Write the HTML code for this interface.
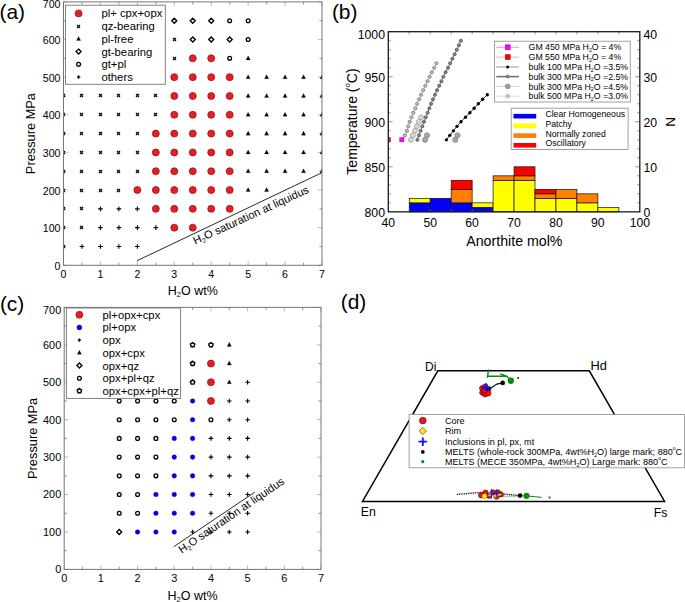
<!DOCTYPE html>
<html><head><meta charset="utf-8"><title>figure</title>
<style>html,body{margin:0;padding:0;background:#fff;}svg{display:block;font-family:"Liberation Sans",sans-serif;}</style>
</head><body>
<svg width="685" height="602" viewBox="0 0 685 602" font-family="Liberation Sans, sans-serif">
<rect width="685" height="602" fill="#fff"/>
<clipPath id="ca"><rect x="63.5" y="1.9" width="258.5" height="263.4"/></clipPath>
<path d="M63.5 265.3v-4.2M63.5 1.9v4.2M100.43 265.3v-4.2M100.43 1.9v4.2M137.36 265.3v-4.2M137.36 1.9v4.2M174.29 265.3v-4.2M174.29 1.9v4.2M211.21 265.3v-4.2M211.21 1.9v4.2M248.14 265.3v-4.2M248.14 1.9v4.2M285.07 265.3v-4.2M285.07 1.9v4.2M322 265.3v-4.2M322 1.9v4.2M63.5 265.3h4.2M322 265.3h-4.2M63.5 227.67h4.2M322 227.67h-4.2M63.5 190.04h4.2M322 190.04h-4.2M63.5 152.41h4.2M322 152.41h-4.2M63.5 114.79h4.2M322 114.79h-4.2M63.5 77.16h4.2M322 77.16h-4.2M63.5 39.53h4.2M322 39.53h-4.2M63.5 1.9h4.2M322 1.9h-4.2" stroke="#a8a8a8" stroke-width="0.8" fill="none"/>
<path d="M81.96 265.3v-2.6M81.96 1.9v2.6M118.89 265.3v-2.6M118.89 1.9v2.6M155.82 265.3v-2.6M155.82 1.9v2.6M192.75 265.3v-2.6M192.75 1.9v2.6M229.68 265.3v-2.6M229.68 1.9v2.6M266.61 265.3v-2.6M266.61 1.9v2.6M303.54 265.3v-2.6M303.54 1.9v2.6M63.5 246.49h2.6M322 246.49h-2.6M63.5 208.86h2.6M322 208.86h-2.6M63.5 171.23h2.6M322 171.23h-2.6M63.5 133.6h2.6M322 133.6h-2.6M63.5 95.97h2.6M322 95.97h-2.6M63.5 58.34h2.6M322 58.34h-2.6M63.5 20.71h2.6M322 20.71h-2.6" stroke="#767676" stroke-width="0.8" fill="none"/>
<g clip-path="url(#ca)">
<path d="M174.29 18.21L176.79 20.71L174.29 23.21L171.79 20.71Z" stroke="#000" stroke-width="1.35" fill="none"/>
<path d="M192.75 18.21L195.25 20.71L192.75 23.21L190.25 20.71Z" stroke="#000" stroke-width="1.35" fill="none"/>
<path d="M211.21 18.21L213.71 20.71L211.21 23.21L208.71 20.71Z" stroke="#000" stroke-width="1.35" fill="none"/>
<circle cx="229.68" cy="20.71" r="1.9" stroke="#000" stroke-width="1.3" fill="none"/>
<circle cx="248.14" cy="20.71" r="1.9" stroke="#000" stroke-width="1.3" fill="none"/>
<path d="M173 38L176 41M173 41L176 38" stroke="#000" stroke-width="1.2" fill="none"/>
<path d="M192.75 37.03L195.25 39.53L192.75 42.03L190.25 39.53Z" stroke="#000" stroke-width="1.35" fill="none"/>
<path d="M211.21 37.03L213.71 39.53L211.21 42.03L208.71 39.53Z" stroke="#000" stroke-width="1.35" fill="none"/>
<path d="M229.68 37.03L232.18 39.53L229.68 42.03L227.18 39.53Z" stroke="#000" stroke-width="1.35" fill="none"/>
<circle cx="248.14" cy="39.53" r="1.9" stroke="#000" stroke-width="1.3" fill="none"/>
<path d="M173 57L176 60M173 60L176 57" stroke="#000" stroke-width="1.2" fill="none"/>
<circle cx="192.75" cy="58.34" r="3.5" fill="#ec1c24" stroke="#7a1414" stroke-width="0.7"/>
<circle cx="211.21" cy="58.34" r="3.5" fill="#ec1c24" stroke="#7a1414" stroke-width="0.7"/>
<circle cx="229.68" cy="58.34" r="1.9" stroke="#000" stroke-width="1.3" fill="none"/>
<path d="M248.14 55.84L250.24 59.89L246.04 59.89Z" fill="#000" stroke="#000" stroke-width="0.2"/>
<circle cx="174.29" cy="77.16" r="3.5" fill="#ec1c24" stroke="#7a1414" stroke-width="0.7"/>
<circle cx="192.75" cy="77.16" r="3.5" fill="#ec1c24" stroke="#7a1414" stroke-width="0.7"/>
<circle cx="211.21" cy="77.16" r="3.5" fill="#ec1c24" stroke="#7a1414" stroke-width="0.7"/>
<circle cx="229.68" cy="77.16" r="3.5" fill="#ec1c24" stroke="#7a1414" stroke-width="0.7"/>
<path d="M248.14 74.66L250.24 78.71L246.04 78.71Z" fill="#000" stroke="#000" stroke-width="0.2"/>
<path d="M266.61 74.66L268.71 78.71L264.51 78.71Z" fill="#000" stroke="#000" stroke-width="0.2"/>
<path d="M285.07 74.66L287.17 78.71L282.97 78.71Z" fill="#000" stroke="#000" stroke-width="0.2"/>
<path d="M303.54 74.66L305.64 78.71L301.44 78.71Z" fill="#000" stroke="#000" stroke-width="0.2"/>
<path d="M322 74.66L324.1 78.71L319.9 78.71Z" fill="#000" stroke="#000" stroke-width="0.2"/>
<path d="M62 94L65 97M62 97L65 94" stroke="#000" stroke-width="1.2" fill="none"/>
<path d="M80 94L83 97M80 97L83 94" stroke="#000" stroke-width="1.2" fill="none"/>
<path d="M99 94L102 97M99 97L102 94" stroke="#000" stroke-width="1.2" fill="none"/>
<path d="M117 94L120 97M117 97L120 94" stroke="#000" stroke-width="1.2" fill="none"/>
<path d="M136 94L139 97M136 97L139 94" stroke="#000" stroke-width="1.2" fill="none"/>
<path d="M154 94L157 97M154 97L157 94" stroke="#000" stroke-width="1.2" fill="none"/>
<circle cx="174.29" cy="95.97" r="3.5" fill="#ec1c24" stroke="#7a1414" stroke-width="0.7"/>
<circle cx="192.75" cy="95.97" r="3.5" fill="#ec1c24" stroke="#7a1414" stroke-width="0.7"/>
<circle cx="211.21" cy="95.97" r="3.5" fill="#ec1c24" stroke="#7a1414" stroke-width="0.7"/>
<circle cx="229.68" cy="95.97" r="3.5" fill="#ec1c24" stroke="#7a1414" stroke-width="0.7"/>
<path d="M248.14 93.47L250.24 97.52L246.04 97.52Z" fill="#000" stroke="#000" stroke-width="0.2"/>
<path d="M266.61 93.47L268.71 97.52L264.51 97.52Z" fill="#000" stroke="#000" stroke-width="0.2"/>
<path d="M285.07 93.47L287.17 97.52L282.97 97.52Z" fill="#000" stroke="#000" stroke-width="0.2"/>
<path d="M303.54 93.47L305.64 97.52L301.44 97.52Z" fill="#000" stroke="#000" stroke-width="0.2"/>
<path d="M322 93.47L324.1 97.52L319.9 97.52Z" fill="#000" stroke="#000" stroke-width="0.2"/>
<path d="M62 113L65 116M62 116L65 113" stroke="#000" stroke-width="1.2" fill="none"/>
<path d="M80 113L83 116M80 116L83 113" stroke="#000" stroke-width="1.2" fill="none"/>
<path d="M99 113L102 116M99 116L102 113" stroke="#000" stroke-width="1.2" fill="none"/>
<path d="M117 113L120 116M117 116L120 113" stroke="#000" stroke-width="1.2" fill="none"/>
<path d="M136 113L139 116M136 116L139 113" stroke="#000" stroke-width="1.2" fill="none"/>
<path d="M154 113L157 116M154 116L157 113" stroke="#000" stroke-width="1.2" fill="none"/>
<circle cx="174.29" cy="114.79" r="3.5" fill="#ec1c24" stroke="#7a1414" stroke-width="0.7"/>
<circle cx="192.75" cy="114.79" r="3.5" fill="#ec1c24" stroke="#7a1414" stroke-width="0.7"/>
<circle cx="211.21" cy="114.79" r="3.5" fill="#ec1c24" stroke="#7a1414" stroke-width="0.7"/>
<circle cx="229.68" cy="114.79" r="3.5" fill="#ec1c24" stroke="#7a1414" stroke-width="0.7"/>
<path d="M248.14 112.29L250.24 116.34L246.04 116.34Z" fill="#000" stroke="#000" stroke-width="0.2"/>
<path d="M266.61 112.29L268.71 116.34L264.51 116.34Z" fill="#000" stroke="#000" stroke-width="0.2"/>
<path d="M285.07 112.29L287.17 116.34L282.97 116.34Z" fill="#000" stroke="#000" stroke-width="0.2"/>
<path d="M303.54 112.29L305.64 116.34L301.44 116.34Z" fill="#000" stroke="#000" stroke-width="0.2"/>
<path d="M322 112.29L324.1 116.34L319.9 116.34Z" fill="#000" stroke="#000" stroke-width="0.2"/>
<path d="M62 132L65 135M62 135L65 132" stroke="#000" stroke-width="1.2" fill="none"/>
<path d="M80 132L83 135M80 135L83 132" stroke="#000" stroke-width="1.2" fill="none"/>
<path d="M99 132L102 135M99 135L102 132" stroke="#000" stroke-width="1.2" fill="none"/>
<path d="M117 132L120 135M117 135L120 132" stroke="#000" stroke-width="1.2" fill="none"/>
<path d="M136 132L139 135M136 135L139 132" stroke="#000" stroke-width="1.2" fill="none"/>
<circle cx="155.82" cy="133.6" r="3.5" fill="#ec1c24" stroke="#7a1414" stroke-width="0.7"/>
<circle cx="174.29" cy="133.6" r="3.5" fill="#ec1c24" stroke="#7a1414" stroke-width="0.7"/>
<circle cx="192.75" cy="133.6" r="3.5" fill="#ec1c24" stroke="#7a1414" stroke-width="0.7"/>
<circle cx="211.21" cy="133.6" r="3.5" fill="#ec1c24" stroke="#7a1414" stroke-width="0.7"/>
<circle cx="229.68" cy="133.6" r="3.5" fill="#ec1c24" stroke="#7a1414" stroke-width="0.7"/>
<path d="M248.14 131.1L250.24 135.15L246.04 135.15Z" fill="#000" stroke="#000" stroke-width="0.2"/>
<path d="M266.61 131.1L268.71 135.15L264.51 135.15Z" fill="#000" stroke="#000" stroke-width="0.2"/>
<path d="M285.07 131.1L287.17 135.15L282.97 135.15Z" fill="#000" stroke="#000" stroke-width="0.2"/>
<path d="M303.54 131.1L305.64 135.15L301.44 135.15Z" fill="#000" stroke="#000" stroke-width="0.2"/>
<path d="M322 131.1L324.1 135.15L319.9 135.15Z" fill="#000" stroke="#000" stroke-width="0.2"/>
<path d="M62 151L65 154M62 154L65 151" stroke="#000" stroke-width="1.2" fill="none"/>
<path d="M80 151L83 154M80 154L83 151" stroke="#000" stroke-width="1.2" fill="none"/>
<path d="M99 151L102 154M99 154L102 151" stroke="#000" stroke-width="1.2" fill="none"/>
<path d="M117 151L120 154M117 154L120 151" stroke="#000" stroke-width="1.2" fill="none"/>
<path d="M136 151L139 154M136 154L139 151" stroke="#000" stroke-width="1.2" fill="none"/>
<circle cx="155.82" cy="152.41" r="3.5" fill="#ec1c24" stroke="#7a1414" stroke-width="0.7"/>
<circle cx="174.29" cy="152.41" r="3.5" fill="#ec1c24" stroke="#7a1414" stroke-width="0.7"/>
<circle cx="192.75" cy="152.41" r="3.5" fill="#ec1c24" stroke="#7a1414" stroke-width="0.7"/>
<circle cx="211.21" cy="152.41" r="3.5" fill="#ec1c24" stroke="#7a1414" stroke-width="0.7"/>
<circle cx="229.68" cy="152.41" r="3.5" fill="#ec1c24" stroke="#7a1414" stroke-width="0.7"/>
<path d="M248.14 149.91L250.24 153.96L246.04 153.96Z" fill="#000" stroke="#000" stroke-width="0.2"/>
<path d="M266.61 149.91L268.71 153.96L264.51 153.96Z" fill="#000" stroke="#000" stroke-width="0.2"/>
<path d="M285.07 149.91L287.17 153.96L282.97 153.96Z" fill="#000" stroke="#000" stroke-width="0.2"/>
<path d="M303.54 149.91L305.64 153.96L301.44 153.96Z" fill="#000" stroke="#000" stroke-width="0.2"/>
<path d="M322 149.91L324.1 153.96L319.9 153.96Z" fill="#000" stroke="#000" stroke-width="0.2"/>
<path d="M62 170L65 173M62 173L65 170" stroke="#000" stroke-width="1.2" fill="none"/>
<path d="M80 170L83 173M80 173L83 170" stroke="#000" stroke-width="1.2" fill="none"/>
<path d="M99 170L102 173M99 173L102 170" stroke="#000" stroke-width="1.2" fill="none"/>
<path d="M117 170L120 173M117 173L120 170" stroke="#000" stroke-width="1.2" fill="none"/>
<path d="M136 170L139 173M136 173L139 170" stroke="#000" stroke-width="1.2" fill="none"/>
<circle cx="155.82" cy="171.23" r="3.5" fill="#ec1c24" stroke="#7a1414" stroke-width="0.7"/>
<circle cx="174.29" cy="171.23" r="3.5" fill="#ec1c24" stroke="#7a1414" stroke-width="0.7"/>
<circle cx="192.75" cy="171.23" r="3.5" fill="#ec1c24" stroke="#7a1414" stroke-width="0.7"/>
<circle cx="211.21" cy="171.23" r="3.5" fill="#ec1c24" stroke="#7a1414" stroke-width="0.7"/>
<circle cx="229.68" cy="171.23" r="3.5" fill="#ec1c24" stroke="#7a1414" stroke-width="0.7"/>
<path d="M248.14 168.73L250.24 172.78L246.04 172.78Z" fill="#000" stroke="#000" stroke-width="0.2"/>
<path d="M266.61 168.73L268.71 172.78L264.51 172.78Z" fill="#000" stroke="#000" stroke-width="0.2"/>
<path d="M285.07 168.73L287.17 172.78L282.97 172.78Z" fill="#000" stroke="#000" stroke-width="0.2"/>
<path d="M303.54 168.73L305.64 172.78L301.44 172.78Z" fill="#000" stroke="#000" stroke-width="0.2"/>
<path d="M322 168.73L324.1 172.78L319.9 172.78Z" fill="#000" stroke="#000" stroke-width="0.2"/>
<path d="M62 189L65 192M62 192L65 189" stroke="#000" stroke-width="1.2" fill="none"/>
<path d="M80 189L83 192M80 192L83 189" stroke="#000" stroke-width="1.2" fill="none"/>
<path d="M99 189L102 192M99 192L102 189" stroke="#000" stroke-width="1.2" fill="none"/>
<path d="M117 189L120 192M117 192L120 189" stroke="#000" stroke-width="1.2" fill="none"/>
<circle cx="137.36" cy="190.04" r="3.5" fill="#ec1c24" stroke="#7a1414" stroke-width="0.7"/>
<circle cx="155.82" cy="190.04" r="3.5" fill="#ec1c24" stroke="#7a1414" stroke-width="0.7"/>
<circle cx="174.29" cy="190.04" r="3.5" fill="#ec1c24" stroke="#7a1414" stroke-width="0.7"/>
<circle cx="192.75" cy="190.04" r="3.5" fill="#ec1c24" stroke="#7a1414" stroke-width="0.7"/>
<circle cx="211.21" cy="190.04" r="3.5" fill="#ec1c24" stroke="#7a1414" stroke-width="0.7"/>
<circle cx="229.68" cy="190.04" r="3.5" fill="#ec1c24" stroke="#7a1414" stroke-width="0.7"/>
<path d="M248.14 187.54L250.24 191.59L246.04 191.59Z" fill="#000" stroke="#000" stroke-width="0.2"/>
<path d="M266.61 187.54L268.71 191.59L264.51 191.59Z" fill="#000" stroke="#000" stroke-width="0.2"/>
<path d="M62 207L65 210M62 210L65 207" stroke="#000" stroke-width="1.2" fill="none"/>
<path d="M80 207L83 210M80 210L83 207" stroke="#000" stroke-width="1.2" fill="none"/>
<path d="M98.13 208.86H102.73M100.43 206.56V211.16" stroke="#000" stroke-width="1.1" fill="none"/>
<path d="M116.59 208.86H121.19M118.89 206.56V211.16" stroke="#000" stroke-width="1.1" fill="none"/>
<path d="M135.06 208.86H139.66M137.36 206.56V211.16" stroke="#000" stroke-width="1.1" fill="none"/>
<circle cx="155.82" cy="208.86" r="3.5" fill="#ec1c24" stroke="#7a1414" stroke-width="0.7"/>
<circle cx="174.29" cy="208.86" r="3.5" fill="#ec1c24" stroke="#7a1414" stroke-width="0.7"/>
<circle cx="192.75" cy="208.86" r="3.5" fill="#ec1c24" stroke="#7a1414" stroke-width="0.7"/>
<circle cx="211.21" cy="208.86" r="3.5" fill="#ec1c24" stroke="#7a1414" stroke-width="0.7"/>
<circle cx="229.68" cy="208.86" r="3.5" fill="#ec1c24" stroke="#7a1414" stroke-width="0.7"/>
<path d="M62 226L65 229M62 229L65 226" stroke="#000" stroke-width="1.2" fill="none"/>
<path d="M80 226L83 229M80 229L83 226" stroke="#000" stroke-width="1.2" fill="none"/>
<path d="M98.13 227.67H102.73M100.43 225.37V229.97" stroke="#000" stroke-width="1.1" fill="none"/>
<path d="M116.59 227.67H121.19M118.89 225.37V229.97" stroke="#000" stroke-width="1.1" fill="none"/>
<path d="M135.06 227.67H139.66M137.36 225.37V229.97" stroke="#000" stroke-width="1.1" fill="none"/>
<path d="M153.52 227.67H158.12M155.82 225.37V229.97" stroke="#000" stroke-width="1.1" fill="none"/>
<circle cx="174.29" cy="227.67" r="3.5" fill="#ec1c24" stroke="#7a1414" stroke-width="0.7"/>
<circle cx="192.75" cy="227.67" r="3.5" fill="#ec1c24" stroke="#7a1414" stroke-width="0.7"/>
<path d="M62 245L65 248M62 248L65 245" stroke="#000" stroke-width="1.2" fill="none"/>
<path d="M79.66 246.49H84.26M81.96 244.19V248.79" stroke="#000" stroke-width="1.1" fill="none"/>
<path d="M98.13 246.49H102.73M100.43 244.19V248.79" stroke="#000" stroke-width="1.1" fill="none"/>
<path d="M116.59 246.49H121.19M118.89 244.19V248.79" stroke="#000" stroke-width="1.1" fill="none"/>
<path d="M135.06 246.49H139.66M137.36 244.19V248.79" stroke="#000" stroke-width="1.1" fill="none"/>
</g>
<line x1="137.1" y1="260.7" x2="321.7" y2="172.8" stroke="#111" stroke-width="0.9"/>
<text x="0" y="0" font-size="11.15" transform="translate(195.3 244.7) rotate(-24.6)" fill="#000">H<tspan font-size="0.6em" dy="0.33em">2</tspan><tspan dy="-0.198em">O</tspan> saturation at liquidus</text>
<rect x="63.5" y="1.9" width="258.5" height="263.4" fill="none" stroke="#767676" stroke-width="1"/>
<text x="63.5" y="277.6" font-size="10.6" text-anchor="middle" fill="#000" >0</text>
<text x="100.43" y="277.6" font-size="10.6" text-anchor="middle" fill="#000" >1</text>
<text x="137.36" y="277.6" font-size="10.6" text-anchor="middle" fill="#000" >2</text>
<text x="174.29" y="277.6" font-size="10.6" text-anchor="middle" fill="#000" >3</text>
<text x="211.21" y="277.6" font-size="10.6" text-anchor="middle" fill="#000" >4</text>
<text x="248.14" y="277.6" font-size="10.6" text-anchor="middle" fill="#000" >5</text>
<text x="285.07" y="277.6" font-size="10.6" text-anchor="middle" fill="#000" >6</text>
<text x="322" y="277.6" font-size="10.6" text-anchor="middle" fill="#000" >7</text>
<text x="60.5" y="269.8" font-size="10.6" text-anchor="end" fill="#000" >0</text>
<text x="60.5" y="232.17" font-size="10.6" text-anchor="end" fill="#000" >100</text>
<text x="60.5" y="194.54" font-size="10.6" text-anchor="end" fill="#000" >200</text>
<text x="60.5" y="156.91" font-size="10.6" text-anchor="end" fill="#000" >300</text>
<text x="60.5" y="119.29" font-size="10.6" text-anchor="end" fill="#000" >400</text>
<text x="60.5" y="81.66" font-size="10.6" text-anchor="end" fill="#000" >500</text>
<text x="60.5" y="44.03" font-size="10.6" text-anchor="end" fill="#000" >600</text>
<text x="60.5" y="8.4" font-size="10.6" text-anchor="end" fill="#000" >700</text>
<text x="192.75" y="295" font-size="12.5" text-anchor="middle" fill="#000">H<tspan font-size="0.6em" dy="0.33em">2</tspan><tspan dy="-0.198em">O</tspan> wt%</text>
<text x="0" y="0" font-size="12.8" text-anchor="middle" fill="#000" transform="translate(35.3 133.6) rotate(-90)">Pressure MPa</text>
<rect x="65.5" y="5.2" width="99.8" height="79.1" fill="#fff" stroke="#767676" stroke-width="0.9"/>
<circle cx="78.6" cy="13.4" r="3.5" fill="#ec1c24" stroke="#7a1414" stroke-width="0.7"/>
<text x="101.4" y="17.4" font-size="11.3" text-anchor="start" fill="#000" >pl+ cpx+opx</text>
<path d="M77 25L80 28M77 28L80 25" stroke="#000" stroke-width="1.2" fill="none"/>
<text x="101.4" y="30.2" font-size="11.3" text-anchor="start" fill="#000" >qz-bearing</text>
<path d="M78.6 36.4L80.7 40.45L76.5 40.45Z" fill="#000" stroke="#000" stroke-width="0.2"/>
<text x="101.4" y="42.9" font-size="11.3" text-anchor="start" fill="#000" >pl-free</text>
<path d="M78.6 49.1L81.1 51.6L78.6 54.1L76.1 51.6Z" stroke="#000" stroke-width="1.35" fill="none"/>
<text x="101.4" y="55.6" font-size="11.3" text-anchor="start" fill="#000" >gt-bearing</text>
<circle cx="78.6" cy="64.3" r="1.9" stroke="#000" stroke-width="1.3" fill="none"/>
<text x="101.4" y="68.3" font-size="11.3" text-anchor="start" fill="#000" >gt+pl</text>
<path d="M76.9 77H80.3M78.6 75.3V78.7" stroke="#000" stroke-width="1.25" fill="none"/>
<text x="101.4" y="81" font-size="11.3" text-anchor="start" fill="#000" >others</text>
<text x="-0.5" y="18.6" font-size="20.9" text-anchor="start" fill="#000" >(a)</text>
<clipPath id="cc"><rect x="64.2" y="307.4" width="256.8" height="262"/></clipPath>
<path d="M64.2 569.4v-4.2M64.2 307.4v4.2M100.89 569.4v-4.2M100.89 307.4v4.2M137.57 569.4v-4.2M137.57 307.4v4.2M174.26 569.4v-4.2M174.26 307.4v4.2M210.94 569.4v-4.2M210.94 307.4v4.2M247.63 569.4v-4.2M247.63 307.4v4.2M284.31 569.4v-4.2M284.31 307.4v4.2M321 569.4v-4.2M321 307.4v4.2M64.2 569.4h4.2M321 569.4h-4.2M64.2 531.97h4.2M321 531.97h-4.2M64.2 494.54h4.2M321 494.54h-4.2M64.2 457.11h4.2M321 457.11h-4.2M64.2 419.69h4.2M321 419.69h-4.2M64.2 382.26h4.2M321 382.26h-4.2M64.2 344.83h4.2M321 344.83h-4.2M64.2 307.4h4.2M321 307.4h-4.2" stroke="#a8a8a8" stroke-width="0.8" fill="none"/>
<path d="M82.54 569.4v-2.6M82.54 307.4v2.6M119.23 569.4v-2.6M119.23 307.4v2.6M155.91 569.4v-2.6M155.91 307.4v2.6M192.6 569.4v-2.6M192.6 307.4v2.6M229.29 569.4v-2.6M229.29 307.4v2.6M265.97 569.4v-2.6M265.97 307.4v2.6M302.66 569.4v-2.6M302.66 307.4v2.6M64.2 550.69h2.6M321 550.69h-2.6M64.2 513.26h2.6M321 513.26h-2.6M64.2 475.83h2.6M321 475.83h-2.6M64.2 438.4h2.6M321 438.4h-2.6M64.2 400.97h2.6M321 400.97h-2.6M64.2 363.54h2.6M321 363.54h-2.6M64.2 326.11h2.6M321 326.11h-2.6" stroke="#767676" stroke-width="0.8" fill="none"/>
<g clip-path="url(#cc)">
<path d="M192.6 342.53L194.79 344.12L193.95 346.69L191.25 346.69L190.41 344.12Z" stroke="#000" stroke-width="1.45" fill="none"/>
<path d="M210.94 342.53L213.13 344.12L212.29 346.69L209.59 346.69L208.76 344.12Z" stroke="#000" stroke-width="1.45" fill="none"/>
<path d="M229.29 342.33L231.39 346.38L227.19 346.38Z" fill="#000" stroke="#000" stroke-width="0.2"/>
<path d="M192.6 361.24L194.79 362.83L193.95 365.4L191.25 365.4L190.41 362.83Z" stroke="#000" stroke-width="1.45" fill="none"/>
<circle cx="210.94" cy="363.54" r="3.5" fill="#ec1c24" stroke="#7a1414" stroke-width="0.7"/>
<path d="M229.29 361.04L231.39 365.09L227.19 365.09Z" fill="#000" stroke="#000" stroke-width="0.2"/>
<path d="M192.6 379.96L194.79 381.55L193.95 384.12L191.25 384.12L190.41 381.55Z" stroke="#000" stroke-width="1.45" fill="none"/>
<circle cx="210.94" cy="382.26" r="3.5" fill="#ec1c24" stroke="#7a1414" stroke-width="0.7"/>
<path d="M229.29 379.76L231.39 383.81L227.19 383.81Z" fill="#000" stroke="#000" stroke-width="0.2"/>
<path d="M245.33 382.26H249.93M247.63 379.96V384.56" stroke="#000" stroke-width="1.1" fill="none"/>
<circle cx="119.23" cy="400.97" r="1.9" stroke="#000" stroke-width="1.3" fill="none"/>
<circle cx="137.57" cy="400.97" r="1.9" stroke="#000" stroke-width="1.3" fill="none"/>
<circle cx="155.91" cy="400.97" r="1.9" stroke="#000" stroke-width="1.3" fill="none"/>
<circle cx="174.26" cy="400.97" r="1.9" stroke="#000" stroke-width="1.3" fill="none"/>
<circle cx="192.6" cy="400.97" r="2.3" fill="#0000f8" stroke="#000070" stroke-width="0.4"/>
<circle cx="210.94" cy="400.97" r="3.5" fill="#ec1c24" stroke="#7a1414" stroke-width="0.7"/>
<path d="M226.99 400.97H231.59M229.29 398.67V403.27" stroke="#000" stroke-width="1.1" fill="none"/>
<path d="M245.33 400.97H249.93M247.63 398.67V403.27" stroke="#000" stroke-width="1.1" fill="none"/>
<circle cx="119.23" cy="419.69" r="1.9" stroke="#000" stroke-width="1.3" fill="none"/>
<circle cx="137.57" cy="419.69" r="1.9" stroke="#000" stroke-width="1.3" fill="none"/>
<circle cx="155.91" cy="419.69" r="1.9" stroke="#000" stroke-width="1.3" fill="none"/>
<circle cx="174.26" cy="419.69" r="1.9" stroke="#000" stroke-width="1.3" fill="none"/>
<circle cx="192.6" cy="419.69" r="2.3" fill="#0000f8" stroke="#000070" stroke-width="0.4"/>
<circle cx="210.94" cy="419.69" r="1.9" stroke="#000" stroke-width="1.3" fill="none"/>
<path d="M226.99 419.69H231.59M229.29 417.39V421.99" stroke="#000" stroke-width="1.1" fill="none"/>
<path d="M245.33 419.69H249.93M247.63 417.39V421.99" stroke="#000" stroke-width="1.1" fill="none"/>
<circle cx="119.23" cy="438.4" r="1.9" stroke="#000" stroke-width="1.3" fill="none"/>
<circle cx="137.57" cy="438.4" r="1.9" stroke="#000" stroke-width="1.3" fill="none"/>
<circle cx="155.91" cy="438.4" r="1.9" stroke="#000" stroke-width="1.3" fill="none"/>
<circle cx="174.26" cy="438.4" r="2.3" fill="#0000f8" stroke="#000070" stroke-width="0.4"/>
<circle cx="192.6" cy="438.4" r="2.3" fill="#0000f8" stroke="#000070" stroke-width="0.4"/>
<path d="M208.64 438.4H213.24M210.94 436.1V440.7" stroke="#000" stroke-width="1.1" fill="none"/>
<path d="M226.99 438.4H231.59M229.29 436.1V440.7" stroke="#000" stroke-width="1.1" fill="none"/>
<path d="M245.33 438.4H249.93M247.63 436.1V440.7" stroke="#000" stroke-width="1.1" fill="none"/>
<circle cx="119.23" cy="457.11" r="1.9" stroke="#000" stroke-width="1.3" fill="none"/>
<circle cx="137.57" cy="457.11" r="1.9" stroke="#000" stroke-width="1.3" fill="none"/>
<circle cx="155.91" cy="457.11" r="1.9" stroke="#000" stroke-width="1.3" fill="none"/>
<circle cx="174.26" cy="457.11" r="2.3" fill="#0000f8" stroke="#000070" stroke-width="0.4"/>
<circle cx="192.6" cy="457.11" r="2.3" fill="#0000f8" stroke="#000070" stroke-width="0.4"/>
<path d="M208.64 457.11H213.24M210.94 454.81V459.41" stroke="#000" stroke-width="1.1" fill="none"/>
<path d="M226.99 457.11H231.59M229.29 454.81V459.41" stroke="#000" stroke-width="1.1" fill="none"/>
<path d="M245.33 457.11H249.93M247.63 454.81V459.41" stroke="#000" stroke-width="1.1" fill="none"/>
<circle cx="119.23" cy="475.83" r="1.9" stroke="#000" stroke-width="1.3" fill="none"/>
<circle cx="137.57" cy="475.83" r="1.9" stroke="#000" stroke-width="1.3" fill="none"/>
<circle cx="155.91" cy="475.83" r="1.9" stroke="#000" stroke-width="1.3" fill="none"/>
<circle cx="174.26" cy="475.83" r="2.3" fill="#0000f8" stroke="#000070" stroke-width="0.4"/>
<circle cx="192.6" cy="475.83" r="2.3" fill="#0000f8" stroke="#000070" stroke-width="0.4"/>
<path d="M208.64 475.83H213.24M210.94 473.53V478.13" stroke="#000" stroke-width="1.1" fill="none"/>
<path d="M226.99 475.83H231.59M229.29 473.53V478.13" stroke="#000" stroke-width="1.1" fill="none"/>
<path d="M245.33 475.83H249.93M247.63 473.53V478.13" stroke="#000" stroke-width="1.1" fill="none"/>
<circle cx="119.23" cy="494.54" r="1.9" stroke="#000" stroke-width="1.3" fill="none"/>
<circle cx="137.57" cy="494.54" r="1.9" stroke="#000" stroke-width="1.3" fill="none"/>
<circle cx="155.91" cy="494.54" r="2.3" fill="#0000f8" stroke="#000070" stroke-width="0.4"/>
<circle cx="174.26" cy="494.54" r="2.3" fill="#0000f8" stroke="#000070" stroke-width="0.4"/>
<circle cx="192.6" cy="494.54" r="2.3" fill="#0000f8" stroke="#000070" stroke-width="0.4"/>
<path d="M208.64 494.54H213.24M210.94 492.24V496.84" stroke="#000" stroke-width="1.1" fill="none"/>
<path d="M226.99 494.54H231.59M229.29 492.24V496.84" stroke="#000" stroke-width="1.1" fill="none"/>
<path d="M245.33 494.54H249.93M247.63 492.24V496.84" stroke="#000" stroke-width="1.1" fill="none"/>
<circle cx="119.23" cy="513.26" r="1.9" stroke="#000" stroke-width="1.3" fill="none"/>
<circle cx="137.57" cy="513.26" r="1.9" stroke="#000" stroke-width="1.3" fill="none"/>
<circle cx="155.91" cy="513.26" r="2.3" fill="#0000f8" stroke="#000070" stroke-width="0.4"/>
<circle cx="174.26" cy="513.26" r="2.3" fill="#0000f8" stroke="#000070" stroke-width="0.4"/>
<circle cx="192.6" cy="513.26" r="2.3" fill="#0000f8" stroke="#000070" stroke-width="0.4"/>
<path d="M208.64 513.26H213.24M210.94 510.96V515.56" stroke="#000" stroke-width="1.1" fill="none"/>
<path d="M226.99 513.26H231.59M229.29 510.96V515.56" stroke="#000" stroke-width="1.1" fill="none"/>
<path d="M245.33 513.26H249.93M247.63 510.96V515.56" stroke="#000" stroke-width="1.1" fill="none"/>
<path d="M119.23 529.47L121.73 531.97L119.23 534.47L116.73 531.97Z" stroke="#000" stroke-width="1.35" fill="none"/>
<circle cx="137.57" cy="531.97" r="2.3" fill="#0000f8" stroke="#000070" stroke-width="0.4"/>
<circle cx="155.91" cy="531.97" r="2.3" fill="#0000f8" stroke="#000070" stroke-width="0.4"/>
<circle cx="174.26" cy="531.97" r="2.3" fill="#0000f8" stroke="#000070" stroke-width="0.4"/>
<path d="M190.3 531.97H194.9M192.6 529.67V534.27" stroke="#000" stroke-width="1.1" fill="none"/>
<path d="M208.64 531.97H213.24M210.94 529.67V534.27" stroke="#000" stroke-width="1.1" fill="none"/>
<path d="M226.99 531.97H231.59M229.29 529.67V534.27" stroke="#000" stroke-width="1.1" fill="none"/>
<path d="M245.33 531.97H249.93M247.63 529.67V534.27" stroke="#000" stroke-width="1.1" fill="none"/>
</g>
<line x1="173.9" y1="546.6" x2="254.6" y2="492.3" stroke="#111" stroke-width="0.9"/>
<text x="0" y="0" font-size="11.1" transform="translate(181.7 553.7) rotate(-34.3)" fill="#000">H<tspan font-size="0.6em" dy="0.33em">2</tspan><tspan dy="-0.198em">O</tspan> saturation at liquidus</text>
<rect x="64.2" y="307.4" width="256.8" height="262" fill="none" stroke="#767676" stroke-width="1"/>
<text x="64.2" y="581.7" font-size="10.9" text-anchor="middle" fill="#000" >0</text>
<text x="100.89" y="581.7" font-size="10.9" text-anchor="middle" fill="#000" >1</text>
<text x="137.57" y="581.7" font-size="10.9" text-anchor="middle" fill="#000" >2</text>
<text x="174.26" y="581.7" font-size="10.9" text-anchor="middle" fill="#000" >3</text>
<text x="210.94" y="581.7" font-size="10.9" text-anchor="middle" fill="#000" >4</text>
<text x="247.63" y="581.7" font-size="10.9" text-anchor="middle" fill="#000" >5</text>
<text x="284.31" y="581.7" font-size="10.9" text-anchor="middle" fill="#000" >6</text>
<text x="321" y="581.7" font-size="10.9" text-anchor="middle" fill="#000" >7</text>
<text x="61.2" y="573.3" font-size="10.9" text-anchor="end" fill="#000" >0</text>
<text x="61.2" y="535.87" font-size="10.9" text-anchor="end" fill="#000" >100</text>
<text x="61.2" y="498.44" font-size="10.9" text-anchor="end" fill="#000" >200</text>
<text x="61.2" y="461.01" font-size="10.9" text-anchor="end" fill="#000" >300</text>
<text x="61.2" y="423.59" font-size="10.9" text-anchor="end" fill="#000" >400</text>
<text x="61.2" y="386.16" font-size="10.9" text-anchor="end" fill="#000" >500</text>
<text x="61.2" y="348.73" font-size="10.9" text-anchor="end" fill="#000" >600</text>
<text x="61.2" y="314.2" font-size="10.9" text-anchor="end" fill="#000" >700</text>
<text x="192.6" y="599.8" font-size="12.5" text-anchor="middle" fill="#000">H<tspan font-size="0.6em" dy="0.33em">2</tspan><tspan dy="-0.198em">O</tspan> wt%</text>
<text x="0" y="0" font-size="12.8" text-anchor="middle" fill="#000" transform="translate(37 438.4) rotate(-90)">Pressure MPa</text>
<rect x="66.4" y="308" width="114.2" height="90.4" fill="#fff" stroke="#767676" stroke-width="0.9"/>
<circle cx="79.4" cy="314.8" r="3.5" fill="#ec1c24" stroke="#7a1414" stroke-width="0.7"/>
<text x="102.5" y="318.8" font-size="11.3" text-anchor="start" fill="#000" >pl+opx+cpx</text>
<circle cx="79.4" cy="327.4" r="2.5" fill="#0000f8" stroke="#000070" stroke-width="0.4"/>
<text x="102.5" y="331.4" font-size="11.3" text-anchor="start" fill="#000" >pl+opx</text>
<path d="M77.7 340.1H81.1M79.4 338.4V341.8" stroke="#000" stroke-width="1.25" fill="none"/>
<text x="102.5" y="344.1" font-size="11.3" text-anchor="start" fill="#000" >opx</text>
<path d="M79.4 350.3L81.5 354.35L77.3 354.35Z" fill="#000" stroke="#000" stroke-width="0.2"/>
<text x="102.5" y="356.8" font-size="11.3" text-anchor="start" fill="#000" >opx+cpx</text>
<path d="M79.4 363L81.9 365.5L79.4 368L76.9 365.5Z" stroke="#000" stroke-width="1.35" fill="none"/>
<text x="102.5" y="369.5" font-size="11.3" text-anchor="start" fill="#000" >opx+qz</text>
<circle cx="79.4" cy="378.2" r="1.9" stroke="#000" stroke-width="1.3" fill="none"/>
<text x="102.5" y="382.2" font-size="11.3" text-anchor="start" fill="#000" >opx+pl+qz</text>
<path d="M79.4 388.5L81.59 390.09L80.75 392.66L78.05 392.66L77.21 390.09Z" stroke="#000" stroke-width="1.45" fill="none"/>
<text x="102.5" y="394.8" font-size="11.3" text-anchor="start" fill="#000" >opx+cpx+pl+qz</text>
<text x="-0.1" y="310.9" font-size="20.9" text-anchor="start" fill="#000" >(c)</text>
<clipPath id="cb"><rect x="388.3" y="31.7" width="251.5" height="180.15"/></clipPath>
<rect x="409.26" y="202.84" width="20.96" height="9.01" fill="#0000ff" stroke="#111" stroke-width="0.7"/>
<rect x="409.26" y="198.34" width="20.96" height="4.5" fill="#ffff00" stroke="#111" stroke-width="0.7"/>
<rect x="430.22" y="198.34" width="20.96" height="13.51" fill="#0000ff" stroke="#111" stroke-width="0.7"/>
<rect x="451.18" y="202.84" width="20.96" height="9.01" fill="#0000ff" stroke="#111" stroke-width="0.7"/>
<rect x="451.18" y="189.33" width="20.96" height="13.51" fill="#ff8000" stroke="#111" stroke-width="0.7"/>
<rect x="451.18" y="180.32" width="20.96" height="9.01" fill="#ff0000" stroke="#111" stroke-width="0.7"/>
<rect x="472.13" y="207.35" width="20.96" height="4.5" fill="#0000ff" stroke="#111" stroke-width="0.7"/>
<rect x="472.13" y="202.84" width="20.96" height="4.5" fill="#ffff00" stroke="#111" stroke-width="0.7"/>
<rect x="493.09" y="180.32" width="20.96" height="31.53" fill="#ffff00" stroke="#111" stroke-width="0.7"/>
<rect x="493.09" y="175.82" width="20.96" height="4.5" fill="#ff8000" stroke="#111" stroke-width="0.7"/>
<rect x="514.05" y="180.32" width="20.96" height="31.53" fill="#ffff00" stroke="#111" stroke-width="0.7"/>
<rect x="514.05" y="175.82" width="20.96" height="4.5" fill="#ff8000" stroke="#111" stroke-width="0.7"/>
<rect x="514.05" y="166.81" width="20.96" height="9.01" fill="#ff0000" stroke="#111" stroke-width="0.7"/>
<rect x="535.01" y="198.34" width="20.96" height="13.51" fill="#ffff00" stroke="#111" stroke-width="0.7"/>
<rect x="535.01" y="193.83" width="20.96" height="4.5" fill="#ff8000" stroke="#111" stroke-width="0.7"/>
<rect x="535.01" y="189.33" width="20.96" height="4.5" fill="#ff0000" stroke="#111" stroke-width="0.7"/>
<rect x="555.97" y="198.34" width="20.96" height="13.51" fill="#ffff00" stroke="#111" stroke-width="0.7"/>
<rect x="555.97" y="189.33" width="20.96" height="9.01" fill="#ff8000" stroke="#111" stroke-width="0.7"/>
<rect x="576.92" y="202.84" width="20.96" height="9.01" fill="#ffff00" stroke="#111" stroke-width="0.7"/>
<rect x="576.92" y="193.83" width="20.96" height="9.01" fill="#ff8000" stroke="#111" stroke-width="0.7"/>
<rect x="597.88" y="207.35" width="20.96" height="4.5" fill="#ffff00" stroke="#111" stroke-width="0.7"/>
<g clip-path="url(#cb)">
<polyline points="404.9,135.29 406.9,130.78 408.3,126.28 409.7,121.77 411.5,117.27 413.3,112.77 415.3,108.26 417.1,103.76 419.1,99.26 421.1,94.75 423.1,90.25 425.3,85.74 427.5,81.24 429.6,76.74 431.8,72.23 434.2,67.73 436.4,63.23" fill="none" stroke="#b0b0b0" stroke-width="0.6"/>
<circle cx="404.9" cy="135.29" r="1.6" stroke="#707070" stroke-width="0.8" fill="#c4c4c4"/>
<circle cx="406.9" cy="130.78" r="1.6" stroke="#707070" stroke-width="0.8" fill="#c4c4c4"/>
<circle cx="408.3" cy="126.28" r="1.6" stroke="#707070" stroke-width="0.8" fill="#c4c4c4"/>
<circle cx="409.7" cy="121.77" r="1.6" stroke="#707070" stroke-width="0.8" fill="#c4c4c4"/>
<circle cx="411.5" cy="117.27" r="1.6" stroke="#707070" stroke-width="0.8" fill="#c4c4c4"/>
<circle cx="413.3" cy="112.77" r="1.6" stroke="#707070" stroke-width="0.8" fill="#c4c4c4"/>
<circle cx="415.3" cy="108.26" r="1.6" stroke="#707070" stroke-width="0.8" fill="#c4c4c4"/>
<circle cx="417.1" cy="103.76" r="1.6" stroke="#707070" stroke-width="0.8" fill="#c4c4c4"/>
<circle cx="419.1" cy="99.26" r="1.6" stroke="#707070" stroke-width="0.8" fill="#c4c4c4"/>
<circle cx="421.1" cy="94.75" r="1.6" stroke="#707070" stroke-width="0.8" fill="#c4c4c4"/>
<circle cx="423.1" cy="90.25" r="1.6" stroke="#707070" stroke-width="0.8" fill="#c4c4c4"/>
<circle cx="425.3" cy="85.74" r="1.6" stroke="#707070" stroke-width="0.8" fill="#c4c4c4"/>
<circle cx="427.5" cy="81.24" r="1.6" stroke="#707070" stroke-width="0.8" fill="#c4c4c4"/>
<circle cx="429.6" cy="76.74" r="1.6" stroke="#707070" stroke-width="0.8" fill="#c4c4c4"/>
<circle cx="431.8" cy="72.23" r="1.6" stroke="#707070" stroke-width="0.8" fill="#c4c4c4"/>
<circle cx="434.2" cy="67.73" r="1.6" stroke="#707070" stroke-width="0.8" fill="#c4c4c4"/>
<circle cx="436.4" cy="63.23" r="1.6" stroke="#707070" stroke-width="0.8" fill="#c4c4c4"/>
<polyline points="410.9,139.79 412.9,135.29 415,130.78 416.8,126.28 418.9,121.77 421.1,117.27" fill="none" stroke="#b0b0b0" stroke-width="0.6"/>
<circle cx="410.9" cy="139.79" r="2.5" stroke="#8a8a8a" stroke-width="0.6" fill="#d8d8d8"/>
<circle cx="412.9" cy="135.29" r="2.5" stroke="#8a8a8a" stroke-width="0.6" fill="#d8d8d8"/>
<circle cx="415" cy="130.78" r="2.5" stroke="#8a8a8a" stroke-width="0.6" fill="#d8d8d8"/>
<circle cx="416.8" cy="126.28" r="2.5" stroke="#8a8a8a" stroke-width="0.6" fill="#d8d8d8"/>
<circle cx="418.9" cy="121.77" r="2.5" stroke="#8a8a8a" stroke-width="0.6" fill="#d8d8d8"/>
<circle cx="421.1" cy="117.27" r="2.5" stroke="#8a8a8a" stroke-width="0.6" fill="#d8d8d8"/>
<polyline points="417.4,139.79 419,135.29 420.6,130.78 422.3,126.28 424,121.77 425.8,117.27 427.6,112.77 429.3,108.26 431.1,103.76 433,99.26 435,94.75 437,90.25 439.2,85.74 441.4,81.24 443.4,76.74 445.6,72.23 448,67.73 450.2,63.23 452.4,58.72 454.6,54.22 456.8,49.72 458.9,45.21 460.9,40.71" fill="none" stroke="#555" stroke-width="0.7"/>
<circle cx="417.4" cy="139.79" r="1.55" stroke="#4a4a4a" stroke-width="0.8" fill="#8c8c8c"/>
<circle cx="419" cy="135.29" r="1.55" stroke="#4a4a4a" stroke-width="0.8" fill="#8c8c8c"/>
<circle cx="420.6" cy="130.78" r="1.55" stroke="#4a4a4a" stroke-width="0.8" fill="#8c8c8c"/>
<circle cx="422.3" cy="126.28" r="1.55" stroke="#4a4a4a" stroke-width="0.8" fill="#8c8c8c"/>
<circle cx="424" cy="121.77" r="1.55" stroke="#4a4a4a" stroke-width="0.8" fill="#8c8c8c"/>
<circle cx="425.8" cy="117.27" r="1.55" stroke="#4a4a4a" stroke-width="0.8" fill="#8c8c8c"/>
<circle cx="427.6" cy="112.77" r="1.55" stroke="#4a4a4a" stroke-width="0.8" fill="#8c8c8c"/>
<circle cx="429.3" cy="108.26" r="1.55" stroke="#4a4a4a" stroke-width="0.8" fill="#8c8c8c"/>
<circle cx="431.1" cy="103.76" r="1.55" stroke="#4a4a4a" stroke-width="0.8" fill="#8c8c8c"/>
<circle cx="433" cy="99.26" r="1.55" stroke="#4a4a4a" stroke-width="0.8" fill="#8c8c8c"/>
<circle cx="435" cy="94.75" r="1.55" stroke="#4a4a4a" stroke-width="0.8" fill="#8c8c8c"/>
<circle cx="437" cy="90.25" r="1.55" stroke="#4a4a4a" stroke-width="0.8" fill="#8c8c8c"/>
<circle cx="439.2" cy="85.74" r="1.55" stroke="#4a4a4a" stroke-width="0.8" fill="#8c8c8c"/>
<circle cx="441.4" cy="81.24" r="1.55" stroke="#4a4a4a" stroke-width="0.8" fill="#8c8c8c"/>
<circle cx="443.4" cy="76.74" r="1.55" stroke="#4a4a4a" stroke-width="0.8" fill="#8c8c8c"/>
<circle cx="445.6" cy="72.23" r="1.55" stroke="#4a4a4a" stroke-width="0.8" fill="#8c8c8c"/>
<circle cx="448" cy="67.73" r="1.55" stroke="#4a4a4a" stroke-width="0.8" fill="#8c8c8c"/>
<circle cx="450.2" cy="63.23" r="1.55" stroke="#4a4a4a" stroke-width="0.8" fill="#8c8c8c"/>
<circle cx="452.4" cy="58.72" r="1.55" stroke="#4a4a4a" stroke-width="0.8" fill="#8c8c8c"/>
<circle cx="454.6" cy="54.22" r="1.55" stroke="#4a4a4a" stroke-width="0.8" fill="#8c8c8c"/>
<circle cx="456.8" cy="49.72" r="1.55" stroke="#4a4a4a" stroke-width="0.8" fill="#8c8c8c"/>
<circle cx="458.9" cy="45.21" r="1.55" stroke="#4a4a4a" stroke-width="0.8" fill="#8c8c8c"/>
<circle cx="460.9" cy="40.71" r="1.55" stroke="#4a4a4a" stroke-width="0.8" fill="#8c8c8c"/>
<circle cx="425.1" cy="139.79" r="2.6" stroke="#707070" stroke-width="0.6" fill="#a8a8a8"/>
<circle cx="427" cy="135.29" r="2.6" stroke="#707070" stroke-width="0.6" fill="#a8a8a8"/>
<circle cx="455.3" cy="139.79" r="2.6" stroke="#707070" stroke-width="0.6" fill="#a8a8a8"/>
<circle cx="457.5" cy="135.29" r="2.6" stroke="#707070" stroke-width="0.6" fill="#a8a8a8"/>
<polyline points="446.4,139.79 449.8,135.29 453.4,130.78 457,126.28 461,121.77 465.5,117.27 469.9,112.77 474.1,108.26 478.3,103.76 482.7,99.26 487.3,94.75" fill="none" stroke="#000" stroke-width="0.8"/>
<circle cx="446.4" cy="139.79" r="1.65" fill="#000"/>
<circle cx="449.8" cy="135.29" r="1.65" fill="#000"/>
<circle cx="453.4" cy="130.78" r="1.65" fill="#000"/>
<circle cx="457" cy="126.28" r="1.65" fill="#000"/>
<circle cx="461" cy="121.77" r="1.65" fill="#000"/>
<circle cx="465.5" cy="117.27" r="1.65" fill="#000"/>
<circle cx="469.9" cy="112.77" r="1.65" fill="#000"/>
<circle cx="474.1" cy="108.26" r="1.65" fill="#000"/>
<circle cx="478.3" cy="103.76" r="1.65" fill="#000"/>
<circle cx="482.7" cy="99.26" r="1.65" fill="#000"/>
<circle cx="487.3" cy="94.75" r="1.65" fill="#000"/>
<rect x="399.8" y="137.69" width="4.2" height="4.2" fill="#ff00ff" stroke="#7a207a" stroke-width="0.5"/>
<rect x="386.2" y="137.69" width="4.2" height="4.2" fill="#e00000" stroke="#701010" stroke-width="0.5"/>
</g>
<path d="M409.26 211.85v-2.6M409.26 31.7v2.6M430.22 211.85v-2.6M430.22 31.7v2.6M451.18 211.85v-2.6M451.18 31.7v2.6M472.13 211.85v-2.6M472.13 31.7v2.6M493.09 211.85v-2.6M493.09 31.7v2.6M514.05 211.85v-2.6M514.05 31.7v2.6M535.01 211.85v-2.6M535.01 31.7v2.6M555.97 211.85v-2.6M555.97 31.7v2.6M576.92 211.85v-2.6M576.92 31.7v2.6M597.88 211.85v-2.6M597.88 31.7v2.6M618.84 211.85v-2.6M618.84 31.7v2.6M388.3 202.84h2.4M388.3 193.83h2.4M388.3 184.83h2.4M388.3 175.82h2.4M388.3 166.81h4.4M388.3 157.81h2.4M388.3 148.8h2.4M388.3 139.79h2.4M388.3 130.78h2.4M388.3 121.77h4.4M388.3 112.77h2.4M388.3 103.76h2.4M388.3 94.75h2.4M388.3 85.74h2.4M388.3 76.74h4.4M388.3 67.73h2.4M388.3 58.72h2.4M388.3 49.72h2.4M388.3 40.71h2.4M639.8 202.84h-2.6M639.8 193.83h-2.6M639.8 184.83h-2.6M639.8 175.82h-2.6M639.8 166.81h-4.5M639.8 157.81h-2.6M639.8 148.8h-2.6M639.8 139.79h-2.6M639.8 130.78h-2.6M639.8 121.77h-4.5M639.8 112.77h-2.6M639.8 103.76h-2.6M639.8 94.75h-2.6M639.8 85.75h-2.6M639.8 76.74h-4.5M639.8 67.73h-2.6M639.8 58.72h-2.6M639.8 49.71h-2.6M639.8 40.71h-2.6" stroke="#777" stroke-width="0.8" fill="none"/>
<rect x="388.3" y="31.7" width="251.5" height="180.15" fill="none" stroke="#1a1a1a" stroke-width="1.3"/>
<text x="388.3" y="227.2" font-size="12.2" text-anchor="middle" fill="#000" >40</text>
<text x="430.22" y="227.2" font-size="12.2" text-anchor="middle" fill="#000" >50</text>
<text x="472.13" y="227.2" font-size="12.2" text-anchor="middle" fill="#000" >60</text>
<text x="514.05" y="227.2" font-size="12.2" text-anchor="middle" fill="#000" >70</text>
<text x="555.97" y="227.2" font-size="12.2" text-anchor="middle" fill="#000" >80</text>
<text x="597.88" y="227.2" font-size="12.2" text-anchor="middle" fill="#000" >90</text>
<text x="639.8" y="227.2" font-size="12.2" text-anchor="middle" fill="#000" >100</text>
<text x="385" y="216.75" font-size="12.3" text-anchor="end" fill="#000" >800</text>
<text x="385" y="171.71" font-size="12.3" text-anchor="end" fill="#000" >850</text>
<text x="385" y="126.67" font-size="12.3" text-anchor="end" fill="#000" >900</text>
<text x="385" y="81.64" font-size="12.3" text-anchor="end" fill="#000" >950</text>
<text x="385" y="38.7" font-size="12.3" text-anchor="end" fill="#000" >1000</text>
<text x="643.5" y="216.65" font-size="12.3" text-anchor="start" fill="#000" >0</text>
<text x="643.5" y="171.61" font-size="12.3" text-anchor="start" fill="#000" >10</text>
<text x="643.5" y="126.57" font-size="12.3" text-anchor="start" fill="#000" >20</text>
<text x="643.5" y="81.54" font-size="12.3" text-anchor="start" fill="#000" >30</text>
<text x="643.5" y="39.1" font-size="12.3" text-anchor="start" fill="#000" >40</text>
<text x="514.35" y="246" font-size="14.2" text-anchor="middle" fill="#000" >Anorthite mol%</text>
<text x="0" y="0" font-size="14" text-anchor="middle" fill="#000" transform="translate(357.4 121.5) rotate(-90)">Temperature (<tspan font-size="0.56em" dy="-0.93em">o</tspan><tspan dy="0.521em">C</tspan>)</text>
<text x="0" y="0" font-size="13.5" text-anchor="middle" fill="#000" transform="translate(674.6 121.8) rotate(-90)">N</text>
<text x="331.9" y="18.8" font-size="20.9" text-anchor="start" fill="#000" >(b)</text>
<rect x="494.4" y="41.2" width="135.8" height="60.8" fill="#fff" stroke="#8a8a8a" stroke-width="0.8"/>
<line x1="496.3" y1="47.3" x2="519" y2="47.3" stroke="#f070f0" stroke-width="0.8"/>
<rect x="505.2" y="44.8" width="5" height="5" fill="#ff00ff" stroke="#702070" stroke-width="0.5"/>
<text x="528.6" y="50.4" font-size="8.75" text-anchor="start" fill="#000" >GM 450 MPa H<tspan font-size="0.6em" dy="0.33em">2</tspan><tspan dy="-0.198em">O</tspan> = 4%</text>
<line x1="496.3" y1="57.1" x2="519" y2="57.1" stroke="#f49a9a" stroke-width="0.8"/>
<rect x="505.2" y="54.6" width="5" height="5" fill="#ff0000" stroke="#701010" stroke-width="0.5"/>
<text x="528.6" y="60.2" font-size="8.75" text-anchor="start" fill="#000" >GM 550 MPa H<tspan font-size="0.6em" dy="0.33em">2</tspan><tspan dy="-0.198em">O</tspan> = 4%</text>
<line x1="496.3" y1="66.9" x2="519" y2="66.9" stroke="#c6c6c6" stroke-width="1.8"/>
<circle cx="507.7" cy="66.9" r="1.5" fill="#000"/>
<text x="528.6" y="70" font-size="8.75" text-anchor="start" fill="#000" >bulk 100 MPa H<tspan font-size="0.6em" dy="0.33em">2</tspan><tspan dy="-0.198em">O</tspan> =3.5%</text>
<line x1="496.3" y1="76.6" x2="519" y2="76.6" stroke="#6e6e6e" stroke-width="1.5"/>
<circle cx="507.7" cy="76.6" r="1.5" stroke="#555" stroke-width="0.7" fill="#999"/>
<text x="528.6" y="79.7" font-size="8.75" text-anchor="start" fill="#000" >bulk 300 MPa H<tspan font-size="0.6em" dy="0.33em">2</tspan><tspan dy="-0.198em">O</tspan> =2.5%</text>
<line x1="496.3" y1="86.4" x2="519" y2="86.4" stroke="#c8c8c8" stroke-width="0.8"/>
<circle cx="507.7" cy="86.4" r="2.4" stroke="#707070" stroke-width="0.6" fill="#a0a0a0"/>
<text x="528.6" y="89.5" font-size="8.75" text-anchor="start" fill="#000" >bulk 300 MPa H<tspan font-size="0.6em" dy="0.33em">2</tspan><tspan dy="-0.198em">O</tspan> =4.5%</text>
<line x1="496.3" y1="96.2" x2="519" y2="96.2" stroke="#d0d0d0" stroke-width="0.8"/>
<circle cx="507.7" cy="96.2" r="1.6" stroke="#808080" stroke-width="0.7" fill="#e0e0e0"/>
<text x="528.6" y="99.3" font-size="8.75" text-anchor="start" fill="#000" >bulk 500 MPa H<tspan font-size="0.6em" dy="0.33em">2</tspan><tspan dy="-0.198em">O</tspan> =3.0%</text>
<rect x="511.2" y="108.2" width="116.9" height="41.3" fill="#fff" stroke="#8a8a8a" stroke-width="0.8"/>
<rect x="513.5" y="113.9" width="22.7" height="4.6" fill="#0000ff"/>
<text x="545.4" y="117.3" font-size="8.7" text-anchor="start" fill="#000" >Clear Homogeneous</text>
<rect x="513.5" y="123.5" width="22.7" height="4.6" fill="#ffff00"/>
<text x="545.4" y="126.9" font-size="8.7" text-anchor="start" fill="#000" >Patchy</text>
<rect x="513.5" y="133.3" width="22.7" height="4.6" fill="#ff8000"/>
<text x="545.4" y="136.7" font-size="8.7" text-anchor="start" fill="#000" >Normally zoned</text>
<rect x="513.5" y="143" width="22.7" height="4.6" fill="#ff0000"/>
<text x="545.4" y="146.4" font-size="8.7" text-anchor="start" fill="#000" >Oscillatory</text>
<text x="340.8" y="309.3" font-size="20.9" text-anchor="start" fill="#000" >(d)</text>
<path d="M437.8 370.8H589.3L664.6 501.4H362.5Z" fill="none" stroke="#000" stroke-width="1.5" stroke-linejoin="miter"/>
<text x="436.4" y="370.5" font-size="12" text-anchor="end" fill="#000" >Di</text>
<text x="590.6" y="369.6" font-size="12.8" text-anchor="start" fill="#000" >Hd</text>
<text x="360.8" y="515.8" font-size="12.3" text-anchor="start" fill="#000" >En</text>
<text x="653.8" y="516.5" font-size="12.3" text-anchor="start" fill="#000" >Fs</text>
<path d="M488.5 369.4L487.4 377.8M488.2 376.3H507.1M500.2 373.8L507.1 376.3L510.8 380.7" fill="none" stroke="#0b8a0b" stroke-width="1.4"/>
<circle cx="482.3" cy="388.2" r="2.8" fill="#f01010" stroke="#300" stroke-width="0.5"/>
<circle cx="485.3" cy="386.6" r="2.8" fill="#f01010" stroke="#300" stroke-width="0.5"/>
<circle cx="488.2" cy="389.2" r="2.8" fill="#f01010" stroke="#300" stroke-width="0.5"/>
<circle cx="482.4" cy="392.6" r="2.8" fill="#f01010" stroke="#300" stroke-width="0.5"/>
<circle cx="485.2" cy="394.2" r="2.8" fill="#f01010" stroke="#300" stroke-width="0.5"/>
<circle cx="488.2" cy="393.2" r="2.8" fill="#f01010" stroke="#300" stroke-width="0.5"/>
<circle cx="484.8" cy="390.6" r="2.8" fill="#f01010" stroke="#300" stroke-width="0.5"/>
<path d="M481.5 387.2H490.5M486 383.2V391M483.5 388.8H490M487 385.5V391.5" stroke="#1010ff" stroke-width="1.5"/>
<polyline points="485.5,390 490.3,388.4 496.9,384.1 502.7,382.9" fill="none" stroke="#000" stroke-width="1.1"/>
<circle cx="502.7" cy="382.9" r="2.3" fill="#000"/>
<circle cx="510.8" cy="380.7" r="3.2" fill="#0b8a0b"/>
<rect x="517.1" y="377" width="2" height="2" fill="#0b8a0b"/>
<path d="M457 494.4L482.7 492.3" stroke="#000" stroke-width="1.3" stroke-dasharray="1 0.8"/>
<path d="M500.2 493.6L520.1 495.6" stroke="#000" stroke-width="1.2" stroke-dasharray="1 0.8"/>
<path d="M501.4 496.2L526.5 495.9" stroke="#0b8a0b" stroke-width="1.3" stroke-dasharray="1 1"/>
<line x1="526.5" y1="495.9" x2="541.6" y2="497.4" stroke="#0b8a0b" stroke-width="1"/>
<circle cx="481.2" cy="495.2" r="2.7" fill="#f01010" stroke="#300" stroke-width="0.5"/>
<circle cx="485.5" cy="492.6" r="2.7" fill="#f01010" stroke="#300" stroke-width="0.5"/>
<circle cx="489" cy="495.8" r="2.7" fill="#f01010" stroke="#300" stroke-width="0.5"/>
<circle cx="493" cy="492.4" r="2.7" fill="#f01010" stroke="#300" stroke-width="0.5"/>
<circle cx="497.8" cy="492.4" r="2.7" fill="#f01010" stroke="#300" stroke-width="0.5"/>
<circle cx="500.8" cy="494.4" r="2.7" fill="#f01010" stroke="#300" stroke-width="0.5"/>
<circle cx="496.5" cy="496.6" r="2.7" fill="#f01010" stroke="#300" stroke-width="0.5"/>
<circle cx="484.5" cy="496.0" r="2.6" fill="#ffee00" stroke="#333" stroke-width="0.4"/>
<circle cx="489.8" cy="494.4" r="1.9" fill="#ffee00" stroke="#333" stroke-width="0.4"/>
<circle cx="495.8" cy="495.8" r="2.0" fill="#ffee00" stroke="#333" stroke-width="0.4"/>
<circle cx="499.5" cy="494.5" r="1.6" fill="#ffee00" stroke="#333" stroke-width="0.4"/>
<path d="M488 494H495M491.5 489.3V498.6M493 493.3H500M496.3 489.5V497" stroke="#1010ff" stroke-width="1.1"/>
<circle cx="520.1" cy="495.6" r="2.3" fill="#000"/>
<circle cx="526.5" cy="495.8" r="3.1" fill="#0b8a0b"/>
<rect x="548.5" y="496.5" width="2" height="2" fill="#0b8a0b"/>
<rect x="409.1" y="414.4" width="275.3" height="53.4" fill="#fff" stroke="#8a8a8a" stroke-width="0.8"/>
<circle cx="422.8" cy="420.6" r="3.4" fill="#e01818" stroke="#400" stroke-width="0.5"/>
<path d="M422.8 427.4L426.4 431L422.8 434.6L419.2 431Z" stroke="#444" stroke-width="0.7" fill="#ffee00"/>
<path d="M418.5 441.7H427.1M422.8 437.4V446" stroke="#1010ff" stroke-width="1.8"/>
<circle cx="422.8" cy="451.9" r="1.85" fill="#000"/>
<circle cx="422.8" cy="461.7" r="1.6" fill="#0b8a0b"/>
<text x="444.9" y="423.8" font-size="9.08" text-anchor="start" fill="#000" >Core</text>
<text x="444.9" y="434.2" font-size="9.08" text-anchor="start" fill="#000" >Rim</text>
<text x="444.9" y="444.9" font-size="9.08" text-anchor="start" fill="#000" >Inclusions in pl, px, mt</text>
<text x="444.9" y="455.1" font-size="9.08" text-anchor="start" fill="#000" >MELTS (whole-rock 300MPa, 4wt%H<tspan font-size="0.6em" dy="0.33em">2</tspan><tspan dy="-0.198em">O</tspan>) large mark; 880<tspan font-size="0.56em" dy="-0.93em">o</tspan><tspan dy="0.521em">C</tspan></text>
<text x="444.9" y="464.9" font-size="9.08" text-anchor="start" fill="#000" >MELTS (MECE 350MPa, 4wt%H<tspan font-size="0.6em" dy="0.33em">2</tspan><tspan dy="-0.198em">O</tspan>) Large mark: 880<tspan font-size="0.56em" dy="-0.93em">o</tspan><tspan dy="0.521em">C</tspan></text>
</svg>
</body></html>
